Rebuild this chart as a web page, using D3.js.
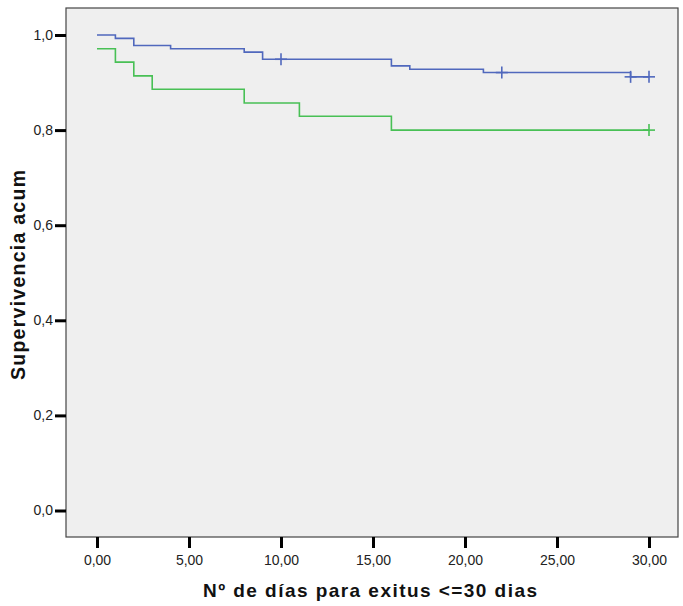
<!DOCTYPE html>
<html><head><meta charset="utf-8">
<script src="https://cdn.jsdelivr.net/npm/d3@7"></script>
<style>body{margin:0;background:#fff}svg{display:block}</style>
</head><body>
<script>
// Step curves: [time, survival] after each step
const blueSteps = [[0,1.0],[1,0.993],[2,0.978],[4,0.971],[8,0.964],[9,0.949],[16,0.935],[17,0.928],[21,0.921],[29,0.912]];
const blueEnd = 30;
const blueCensored = [[10,0.949],[22,0.921],[29,0.912],[30,0.912]];
const greenSteps = [[0,0.971],[1,0.943],[2,0.914],[3,0.886],[8,0.857],[11,0.829],[16,0.800]];
const greenEnd = 30;
const greenCensored = [[30,0.800]];
const xTicks = [0,5,10,15,20,25,30];
const yTicks = [0,0.2,0.4,0.6,0.8,1.0];
const xTitle = "Nº de días para exitus <=30 dias";
const yTitle = "Supervivencia acum";

const W = 683, H = 606;
const frame = {l:66, t:8, r:678, b:537};
const FONT = "Liberation Sans, Arial, sans-serif";
const svg = d3.select("body").append("svg").attr("width",W).attr("height",H);
const x = d3.scaleLinear().domain([0,30]).range([97,649]);
const y = d3.scaleLinear().domain([0,1]).range([510.5,35]);

svg.append("rect").attr("x",frame.l).attr("y",frame.t)
  .attr("width",frame.r-frame.l).attr("height",frame.b-frame.t)
  .attr("fill","#efefef").attr("stroke","#444").attr("stroke-width",1.2);

const fmt = d => d.toFixed(1).replace(".",",");
const fmt2 = d => d.toFixed(2).replace(".",",");

// Y axis
const yAxis = svg.append("g").attr("transform",`translate(${frame.l},0)`)
  .call(d3.axisLeft(y).tickValues(yTicks).tickFormat(fmt).tickSize(11).tickPadding(2));
yAxis.select(".domain").remove();
yAxis.selectAll("line").attr("stroke","#000").attr("stroke-width",3);
yAxis.selectAll("text").attr("font-family",FONT)
  .attr("font-size",14).attr("fill","#222");

// X axis
const xAxis = svg.append("g").attr("transform",`translate(0,${frame.b})`)
  .call(d3.axisBottom(x).tickValues(xTicks).tickFormat(fmt2).tickSize(11).tickPadding(7));
xAxis.select(".domain").remove();
xAxis.selectAll("line").attr("stroke","#000").attr("stroke-width",3);
xAxis.selectAll("text").attr("font-family",FONT)
  .attr("font-size",14).attr("fill","#222");

// Titles
svg.append("text").attr("x",370).attr("y",597)
  .attr("text-anchor","middle").attr("font-family",FONT)
  .attr("font-weight","bold").attr("font-size",19).attr("fill","#111")
  .attr("textLength",334).attr("lengthAdjust","spacing").text(xTitle);
svg.append("text").attr("transform",`translate(24.5,275) rotate(-90)`)
  .attr("text-anchor","middle").attr("font-family",FONT)
  .attr("font-weight","bold").attr("font-size",19.5).attr("fill","#111")
  .attr("textLength",210).attr("lengthAdjust","spacing").text(yTitle);

function stepPts(steps, end){
  const pts = [];
  steps.forEach((s,i)=>{
    if(i>0) pts.push([s[0], steps[i-1][1]]);
    pts.push(s);
  });
  pts.push([end, steps[steps.length-1][1]]);
  return pts;
}
const line = d3.line().x(d=>x(d[0])).y(d=>y(d[1]));

function drawCurve(steps,end,cens,color){
  svg.append("path").datum(stepPts(steps,end)).attr("d",line)
    .attr("fill","none").attr("stroke",color).attr("stroke-width",1.6);
  const g = svg.append("g");
  cens.forEach(c=>{
    const cx = x(c[0]), cy = y(c[1]);
    g.append("line").attr("x1",cx-6).attr("x2",cx+6).attr("y1",cy).attr("y2",cy)
      .attr("stroke",color).attr("stroke-width",1.6);
    g.append("line").attr("x1",cx).attr("x2",cx).attr("y1",cy-6).attr("y2",cy+6)
      .attr("stroke",color).attr("stroke-width",1.6);
  });
}
drawCurve(greenSteps,greenEnd,greenCensored,"#48c055");
drawCurve(blueSteps,blueEnd,blueCensored,"#5068bd");
</script>
</body></html>
